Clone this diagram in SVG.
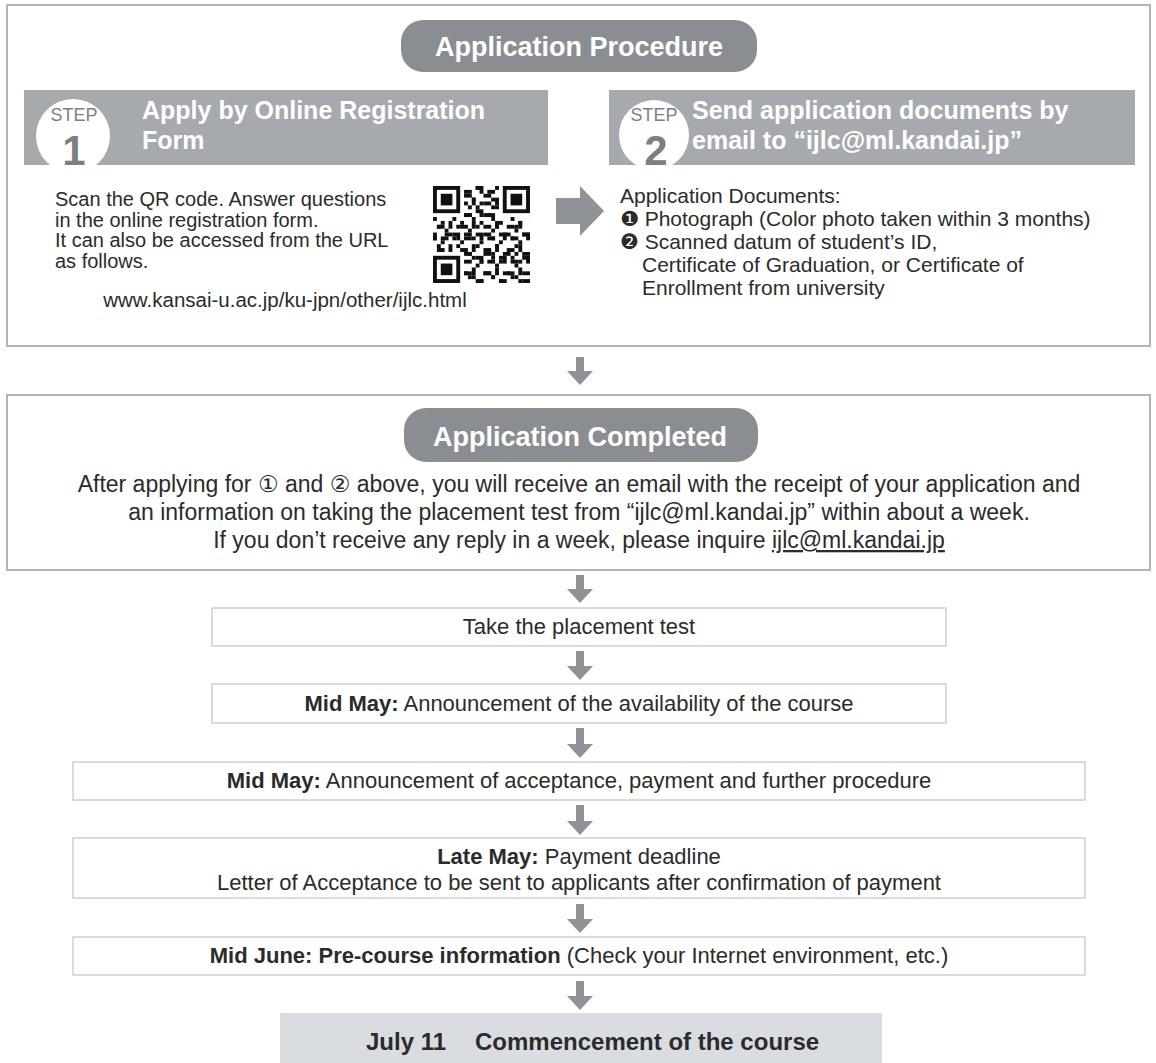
<svg xmlns="http://www.w3.org/2000/svg" width="1156" height="1063" viewBox="0 0 1156 1063">
<style>
text{font-family:"Liberation Sans","DejaVu Sans",Arial,sans-serif;fill:#2b2b2b}
.body{font-size:20px}
.body2{font-size:21px}
.done{font-size:23px}
.mid{font-size:22px}
.b{font-weight:bold}
.c{text-anchor:middle}
.pill{fill:#8a8e92}
.pilltxt{font-size:27px;font-weight:bold;fill:#ffffff;text-anchor:middle}
.bar{fill:#a6aaae}
.bartxt{font-size:25px;font-weight:bold;fill:#ffffff}
.steplbl{font-size:18px;fill:#7c8084;text-anchor:middle}
.stepnum{font-size:42px;font-weight:bold;fill:#7c8084;text-anchor:middle}
.bigbox{fill:#ffffff;stroke:#b4b4b4;stroke-width:2}
.box{fill:#ffffff;stroke:#c4c4c4;stroke-width:1.2}
.arrow{fill:#8f9397}
</style>
<defs>
<pattern id="qrA" x="433" y="186" width="23.28" height="23.28" patternUnits="userSpaceOnUse">
<rect x="0" y="0" width="3.88" height="7.76" fill="#111"/>
<rect x="7.76" y="3.88" width="7.76" height="3.88" fill="#111"/>
<rect x="15.52" y="11.64" width="3.88" height="7.76" fill="#111"/>
<rect x="3.88" y="15.52" width="7.76" height="3.88" fill="#111"/>
<rect x="19.4" y="0" width="3.88" height="3.88" fill="#111"/>
<rect x="11.64" y="19.4" width="3.88" height="3.88" fill="#111"/>
</pattern>
<pattern id="qrB" x="433" y="186" width="19.4" height="19.4" patternUnits="userSpaceOnUse">
<rect x="3.88" y="0" width="3.88" height="3.88" fill="#111"/>
<rect x="11.64" y="7.76" width="7.76" height="3.88" fill="#111"/>
<rect x="0" y="11.64" width="3.88" height="3.88" fill="#111"/>
<rect x="7.76" y="15.52" width="3.88" height="3.88" fill="#111"/>
</pattern>
<g id="finder">
<rect x="0" y="0" width="27.16" height="27.16" fill="#111"/>
<rect x="3.88" y="3.88" width="19.4" height="19.4" fill="#fff"/>
<rect x="7.76" y="7.76" width="11.64" height="11.64" fill="#111"/>
</g>
</defs>

<!-- Application Procedure panel -->
<g id="procedure">
<rect class="bigbox" x="7" y="5" width="1143" height="341"/>
<rect class="pill" x="401" y="20" width="356" height="52" rx="22"/>
<text class="pilltxt" x="579" y="56">Application Procedure</text>
</g>

<g id="step1">
<rect class="bar" x="24" y="90" width="524" height="75"/>
<circle cx="73" cy="136" r="37" fill="#ffffff"/>
<rect x="30" y="165" width="90" height="12" fill="#ffffff"/>
<text class="steplbl" x="74" y="121">STEP</text>
<text class="stepnum" x="74" y="165">1</text>
<text class="bartxt" x="142" y="119">Apply by Online Registration</text>
<text class="bartxt" x="142" y="149">Form</text>
<text class="body" x="55" y="206">Scan the QR code. Answer questions</text>
<text class="body" x="55" y="226.5">in the online registration form.</text>
<text class="body" x="55" y="247">It can also be accessed from the URL</text>
<text class="body" x="55" y="267.5">as follows.</text>
<text class="c" x="285" y="307" font-size="20.5">www.kansai-u.ac.jp/ku-jpn/other/ijlc.html</text>
<g id="qr">
<rect x="433" y="186" width="97" height="97" fill="#ffffff"/>
<rect x="433" y="186" width="97" height="97" fill="url(#qrA)"/>
<rect x="433" y="186" width="97" height="97" fill="url(#qrB)"/>
<rect x="433" y="186" width="31" height="31" fill="#ffffff"/>
<rect x="499" y="186" width="31" height="31" fill="#ffffff"/>
<rect x="433" y="252" width="31" height="31" fill="#ffffff"/>
<use href="#finder" x="433" y="186"/>
<use href="#finder" x="502.8" y="186"/>
<use href="#finder" x="433" y="255.8"/>
</g>
</g>

<g id="step2">
<rect class="bar" x="609" y="90" width="526" height="75"/>
<circle cx="654" cy="135" r="35" fill="#ffffff"/>
<rect x="615" y="165" width="80" height="12" fill="#ffffff"/>
<text class="steplbl" x="654" y="121">STEP</text>
<text class="stepnum" x="656" y="165">2</text>
<text class="bartxt" x="692" y="119" font-size="26.5">Send application documents by</text>
<text class="bartxt" x="692" y="149" font-size="26.5">email to “ijlc@ml.kandai.jp”</text>
<text class="body2" x="620" y="203">Application Documents:</text>
<text class="body2" x="620" y="226">❶ Photograph (Color photo taken within 3 months)</text>
<text class="body2" x="620" y="249">❷ Scanned datum of student’s ID,</text>
<text class="body2" x="642" y="272">Certificate of Graduation, or Certificate of</text>
<text class="body2" x="642" y="295">Enrollment from university</text>
</g>

<g id="completed">
<rect class="bigbox" x="7" y="395" width="1143" height="175"/>
<rect class="pill" x="404" y="408" width="354" height="54" rx="22"/>
<text class="pilltxt" x="580" y="446">Application Completed</text>
<text class="done c" x="579" y="492">After applying for ① and ② above, you will receive an email with the receipt of your application and</text>
<text class="done c" x="579" y="520">an information on taking the placement test from “ijlc@ml.kandai.jp” within about a week.</text>
<text class="done c" x="579" y="548">If you don’t receive any reply in a week, please inquire <tspan text-decoration="underline">ijlc@ml.kandai.jp</tspan></text>
</g>

<g id="placement">
<rect class="box" x="212" y="608" width="734" height="38"/>
<text class="mid c" x="579" y="634">Take the placement test</text>
</g>

<g id="availability">
<rect class="box" x="212" y="684" width="734" height="39"/>
<text class="mid c" x="579" y="711"><tspan class="b">Mid May:</tspan> Announcement of the availability of the course</text>
</g>

<g id="acceptance">
<rect class="box" x="73" y="762" width="1012" height="38"/>
<text class="mid c" x="579" y="788"><tspan class="b">Mid May:</tspan> Announcement of acceptance, payment and further procedure</text>
</g>

<g id="payment">
<rect class="box" x="73" y="838" width="1012" height="60"/>
<text class="mid c" x="579" y="864"><tspan class="b">Late May:</tspan> Payment deadline</text>
<text class="mid c" x="579" y="890">Letter of Acceptance to be sent to applicants after confirmation of payment</text>
</g>

<g id="precourse">
<rect class="box" x="73" y="937" width="1012" height="38"/>
<text class="mid c" x="579" y="963"><tspan class="b">Mid June: Pre-course information</tspan> (Check your Internet environment, etc.)</text>
</g>

<g id="commencement">
<rect x="280" y="1013" width="602" height="50" fill="#d9dde1"/>
<text class="b" x="366" y="1050" font-size="24">July 11</text>
<text class="b" x="475" y="1050" font-size="24">Commencement of the course</text>
</g>

<g id="connectors">
<path class="arrow" d="M556,198 H580 V186 L604,211 L580,236 V224 H556 Z"/>
<path class="arrow" d="M576,357 h8 v14 h9 l-13,14 l-13,-14 h9 z"/>
<path class="arrow" d="M576,575 h8 v14 h9 l-13,14 l-13,-14 h9 z"/>
<path class="arrow" d="M576,651 h8 v15 h9 l-13,14 l-13,-14 h9 z"/>
<path class="arrow" d="M576,728 h8 v16 h9 l-13,14 l-13,-14 h9 z"/>
<path class="arrow" d="M576,805 h8 v16 h9 l-13,14 l-13,-14 h9 z"/>
<path class="arrow" d="M576,904 h8 v15 h9 l-13,14 l-13,-14 h9 z"/>
<path class="arrow" d="M576,981 h8 v15 h9 l-13,14 l-13,-14 h9 z"/>
</g>
</svg>
